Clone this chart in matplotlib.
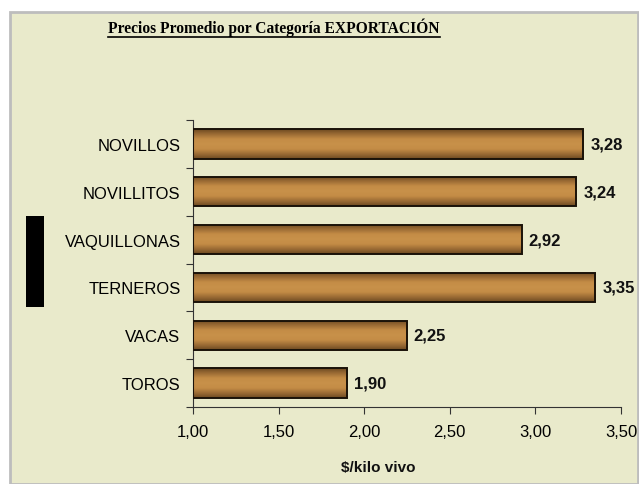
import numpy as np
import matplotlib
matplotlib.use("Agg")
import matplotlib.pyplot as plt
from matplotlib.colors import LinearSegmentedColormap
from matplotlib.patches import Rectangle

categories = ["NOVILLOS", "NOVILLITOS", "VAQUILLONAS", "TERNEROS", "VACAS", "TOROS"]
values = [3.28, 3.24, 2.92, 3.35, 2.25, 1.90]
value_labels = ["3,28", "3,24", "2,92", "3,35", "2,25", "1,90"]
xticks = [1.00, 1.50, 2.00, 2.50, 3.00, 3.50]
xtick_labels = ["1,00", "1,50", "2,00", "2,50", "3,00", "3,50"]
title = "Precios Promedio por Categoría EXPORTACIÓN"
xlabel = "$/kilo vivo"

W, H = 639, 485
fig = plt.figure(figsize=(W / 100, H / 100), dpi=100)
fig.patch.set_facecolor("white")
bg = "#E9EACB"

# chart area frame
fig.patches.append(Rectangle((9.5 / W, 0), (637.5 - 9.5) / W, (H - 13) / H,
                             transform=fig.transFigure, facecolor=bg,
                             edgecolor="#BDBDBD", linewidth=2, zorder=-10))

ax = fig.add_axes([193 / W, (H - 408) / H, (621 - 193) / W, (408 - 121) / H])
ax.set_zorder(5)
ax.patch.set_alpha(0)

y = np.arange(len(categories))
bar_h = 0.61
base = 1.0
bars = ax.barh(y, [v - base for v in values], left=base, height=bar_h,
               color="#C08A45", edgecolor="#1A1208", linewidth=1.4, zorder=3)

cmap = LinearSegmentedColormap.from_list(
    "brown", ["#6E4A22", "#9C6C35", "#C48C46", "#C8914A", "#C48C46", "#9C6C35", "#6E4A22"])
grad = np.linspace(0, 1, 64).reshape(-1, 1)
for b, yi, v in zip(bars, y, values):
    im = ax.imshow(grad, aspect="auto", cmap=cmap,
                   extent=[base, v, yi + bar_h / 2, yi - bar_h / 2],
                   zorder=2.5, interpolation="bicubic")
    im.set_clip_path(b)
    b.set_facecolor("none")

for yi, v, lab in zip(y, values, value_labels):
    ax.text(v + 0.04, yi, lab, va="center", ha="left", fontsize=12,
            fontweight="bold", family="Liberation Sans", color="#111111", zorder=4)

ax.set_xlim(1.0, 3.5)
ax.set_ylim(len(categories) - 0.5, -0.5)
ax.set_xticks(xticks)
ax.set_xticklabels(xtick_labels, family="Liberation Sans", fontsize=12)
ax.set_yticks(np.arange(len(categories) + 1) - 0.5, minor=False)
ax.set_yticklabels([])
ax.set_yticks(y, minor=True)
ax.set_yticklabels(categories, minor=True, family="Liberation Sans", fontsize=12)
ax.tick_params(axis="y", which="major", length=5, direction="out", color="#333333")
ax.tick_params(axis="y", which="minor", length=0, pad=9)
ax.tick_params(axis="x", length=5, direction="out", color="#333333", pad=7)
for s in ["top", "right"]:
    ax.spines[s].set_visible(False)
ax.spines["left"].set_color("#333333")
ax.spines["bottom"].set_color("#333333")

fig.text(378 / W, 1 - 468 / H, xlabel, ha="center", va="center", fontsize=11,
         fontweight="bold", family="Liberation Sans", color="#111111")

t = fig.text(274 / W, 1 - 28 / H, title, ha="center", va="center",
             family="Liberation Serif", fontweight="bold", fontsize=11.2)
fig.canvas.draw()
bb = t.get_window_extent()
fig.add_artist(plt.Line2D([bb.x0 / W, bb.x1 / W], [(bb.y0 - 1) / H, (bb.y0 - 1) / H],
                          transform=fig.transFigure, color="black", linewidth=1.2))

# black box artifact at left
fig.add_artist(Rectangle((26 / W, 1 - 308 / H), 18 / W, 91 / H,
                         transform=fig.transFigure, facecolor="black",
                         edgecolor="none"))

fig.savefig("out.png", dpi=100, facecolor="white")
